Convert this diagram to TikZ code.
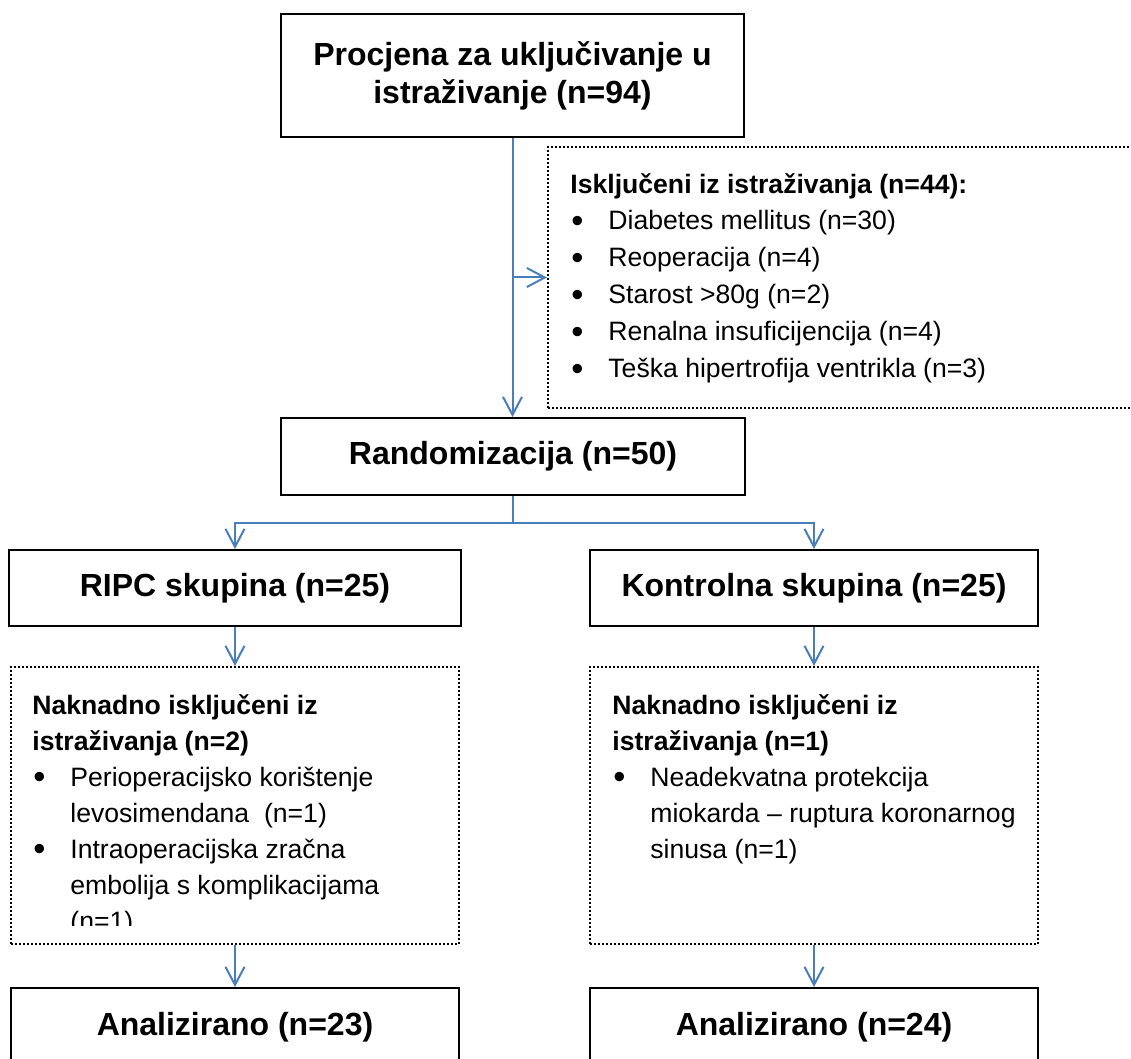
\documentclass[tikz,border=0pt]{standalone}
\usepackage{fontspec}
\usepackage{graphicx}
\setmainfont{Liberation Sans}
\usetikzlibrary{arrows.meta}
\definecolor{flowblue}{RGB}{74,126,187}
\newcommand{\bulletmark}{\makebox[19pt][l]{\hspace{0.5pt}\raisebox{-1.2pt}{\scalebox{1.3}{\textbullet}}}}
\newcommand{\contline}{\hspace*{19pt}}

\tikzset{
  mainbox/.style={draw, line width=1pt, fill=white, align=center, inner sep=0pt,
    font=\fontsize{16pt}{19pt}\selectfont\bfseries},
  dotbox/.style={draw, line width=1pt, dash pattern=on 1pt off 1pt, inner sep=0pt},
  % anchored at the baseline of the last line
  listtext/.style={anchor=base west, align=left, inner sep=0pt,
    font=\fontsize{13.3pt}{18pt}\selectfont},
  flow/.style={draw=flowblue, line width=1pt, -{Straight Barb[length=9pt,width=9.5pt]}}
}

\begin{document}
\begin{tikzpicture}[x=0.5pt,y=-0.5pt]
\useasboundingbox (0,0) rectangle (1131,1059);
\clip (0,0) rectangle (1131,1059);
\fill[white] (0,0) rectangle (1131,1059);

\node[mainbox, minimum width=231.5pt, minimum height=61.5pt] (assess) at (512.5,75.5)
  {Procjena za uključivanje u\\istraživanje (n=94)};

\node[dotbox, minimum width=306pt, minimum height=130.5pt] (excl) at (854,277.5) {};
\node[listtext, font=\fontsize{13.3pt}{18.5pt}\selectfont] (excltext) at (570,378)
  {\textbf{Isključeni iz istraživanja (n=44):}\\
   \bulletmark Diabetes mellitus (n=30)\\
   \bulletmark Reoperacija (n=4)\\
   \bulletmark Starost >80g (n=2)\\
   \bulletmark Renalna insuficijencija (n=4)\\
   \bulletmark Teška hipertrofija ventrikla (n=3)};

\node[mainbox, minimum width=232pt, minimum height=38.5pt] (random) at (513,456.5) {Randomizacija (n=50)};

\node[mainbox, minimum width=226pt, minimum height=38pt] (ripc) at (235,588) {RIPC skupina (n=25)};
\node[mainbox, minimum width=224pt, minimum height=38pt] (ctrl) at (814,588) {Kontrolna skupina (n=25)};

\node[dotbox, minimum width=224pt, minimum height=138.5pt] (lateL) at (235,805.5) {};
\node[dotbox, minimum width=224pt, minimum height=138.5pt] (lateR) at (814,805.5) {};
\begin{scope}
  \clip (lateL.north west) rectangle ([yshift=10pt]lateL.south east);
  \node[listtext] (lateLtext) at (32,930)
    {\textbf{Naknadno isključeni iz}\\
     \textbf{istraživanja (n=2)}\\
     \bulletmark Perioperacijsko korištenje\\
     \contline levosimendana\ \ (n=1)\\
     \bulletmark Intraoperacijska zračna\\
     \contline embolija s komplikacijama\\
     \contline (n=1)};
\end{scope}
\node[listtext] (lateRtext) at (612,858)
  {\textbf{Naknadno isključeni iz}\\
   \textbf{istraživanja (n=1)}\\
   \bulletmark Neadekvatna protekcija\\
   \contline miokarda – ruptura koronarnog\\
   \contline sinusa (n=1)};

\node[mainbox, minimum width=224pt, minimum height=39pt] (analL) at (235,1027) {Analizirano (n=23)};
\node[mainbox, minimum width=224pt, minimum height=39pt] (analR) at (814,1027) {Analizirano (n=24)};

% connectors
\coordinate (split) at (513,523);
\draw[flow] (assess.south) -- (assess.south |- random.north);
\draw[flow] (assess.south |- excl.west) -- (excl.west);
\draw[flowblue, line width=1pt] (random.south) -- (split);
\draw[flow] (split) -| (ripc.north);
\draw[flow] (split) -| (ctrl.north);
\draw[flow] (ripc.south) -- (lateL.north);
\draw[flow] (ctrl.south) -- (lateR.north);
\draw[flow] (lateL.south) -- (analL.north);
\draw[flow] (lateR.south) -- (analR.north);
\end{tikzpicture}
\end{document}
